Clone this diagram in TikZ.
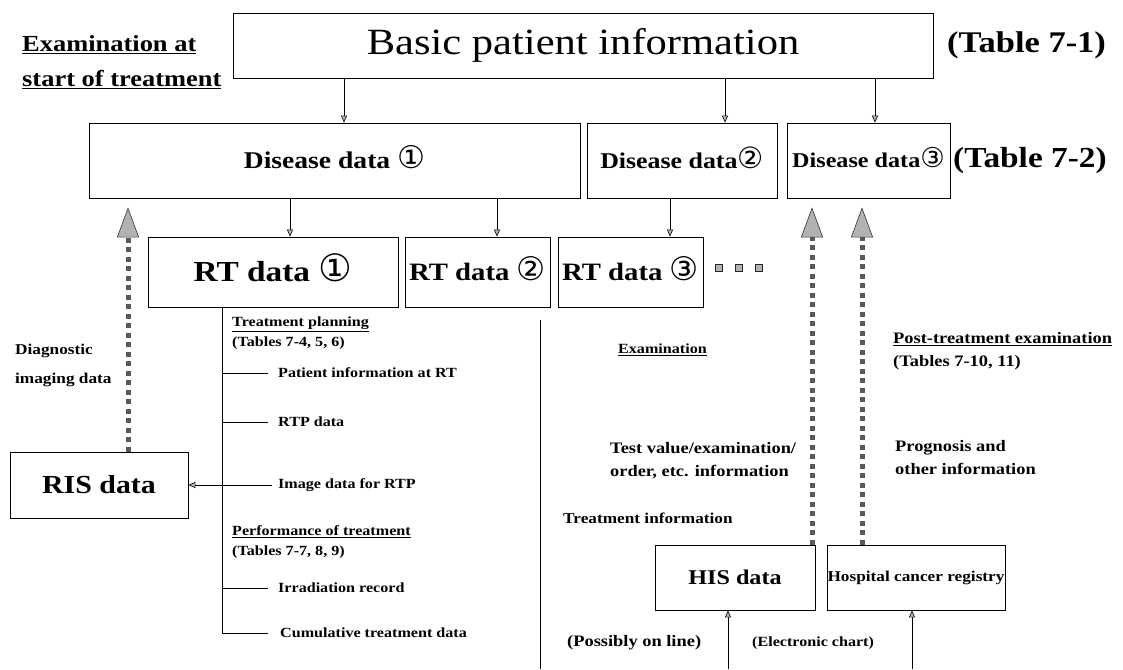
\documentclass[tikz,border=0pt]{standalone}
\usepackage{fontspec}
\usepackage{graphicx}
\setmainfont[FakeStretch=1.15]{Liberation Serif}
\newfontfamily\cf{DejaVu Sans}
\usetikzlibrary{arrows.meta}
\newcommand{\fs}[1]{\fontsize{#1}{#1}\selectfont}
\newcommand{\cnum}[1]{{\cf\mdseries\smash{\scalebox{1.3}{#1}}}}
\begin{document}
\begin{tikzpicture}[x=1pt,y=-1pt]
\useasboundingbox[fill=white] (0,0) rectangle (1123,669);
\tikzset{
 box/.style={draw, line width=0.8pt, inner sep=0pt, font=\bfseries\fs{24}},
 arr/.style={-{Triangle[length=7pt,width=6pt,fill=gray!60]}, line width=0.6pt},
 dots/.style={line width=5pt, draw=gray!70!black, dash pattern=on 5pt off 4.5pt,
   -{Triangle[length=30pt,width=22pt,fill=gray!60,color=gray!40!black,line width=0.6pt,sep=0pt]}},
 lbl/.style={anchor=west, inner sep=0pt, font=\bfseries\fontsize{14}{20}\selectfont, align=left},
 mlbl/.style={anchor=west, inner sep=0pt, font=\bfseries\fontsize{16}{23}\selectfont, align=left},
 big/.style={anchor=west, inner sep=0pt, font=\bfseries\fontsize{23}{35}\selectfont, align=left},
 sq/.style={fill=gray!60, draw=gray!30!black, line width=0.5pt, minimum size=7pt, inner sep=0pt},
 plain/.style={line width=0.8pt},
}
% top
\node[big] (exam) at (22,62) {\underline{Examination at}\\\underline{start of treatment}};
\node[box, minimum width=700pt, minimum height=65pt, font=\fs{37}] (basic) at (583,45.5) {Basic patient information};
\node[big, font=\bfseries\fs{30}] (t71) at (947,45) {(Table 7-1)};
% disease row
\node[box, minimum width=491pt, minimum height=75pt] (d1) at (334.5,160.5) {Disease data \cnum{①}};
\node[box, minimum width=190pt, minimum height=75pt, font=\bfseries\fs{22.5}] (d2) at (682,160.5) {Disease data\cnum{②}};
\node[box, minimum width=163pt, minimum height=75pt, font=\bfseries\fs{21}] (d3) at (868.5,160.5) {Disease data\cnum{③}};
\node[big, font=\bfseries\fs{29}] (t72) at (953,160.5) {(Table 7-2)};
% rt row
\node[box, minimum width=250pt, minimum height=70pt, font=\bfseries\fs{29}] (rt1) at (273,272) {RT data \cnum{①}};
\node[box, minimum width=145pt, minimum height=70pt, font=\bfseries\fs{25}] (rt2) at (477.5,272) {RT data \cnum{②}};
\node[box, minimum width=145pt, minimum height=70pt, font=\bfseries\fs{25}] (rt3) at (630.5,272) {RT data \cnum{③}};
\node[sq] (s1) at (719,268) {};
\node[sq] (s2) at (739,268) {};
\node[sq] (s3) at (759,268) {};
% coordinates for vertical connectors
\coordinate (xa) at (344,0);
\coordinate (xb) at (725,0);
\coordinate (xc) at (875,0);
\coordinate (xd) at (290,0);
\coordinate (xe) at (497,0);
\coordinate (xf) at (670,0);
\draw[arr] (basic.south -| xa) -- (d1.north -| xa);
\draw[arr] (basic.south -| xb) -- (d2.north -| xb);
\draw[arr] (basic.south -| xc) -- (d3.north -| xc);
\draw[arr] (d1.south -| xd) -- (rt1.north -| xd);
\draw[arr] (d1.south -| xe) -- (rt2.north -| xe);
\draw[arr] (d2.south -| xf) -- (rt3.north -| xf);
% left side
\node[box, minimum width=178pt, minimum height=66pt, font=\bfseries\fs{26}] (ris) at (99,485) {RIS data};
\node[lbl, font=\bfseries\fontsize{15}{29}\selectfont] (diag) at (15,365) {Diagnostic\\imaging data};
\coordinate (xl) at (128,0);
\draw[dots, shorten >=9pt] (ris.north -| xl) -- (d1.south -| xl);
% treatment tree
\node[lbl] (tp) at (232,333) {\underline{Treatment planning}\\(Tables 7-4, 5, 6)};
\node[lbl] (pir) at (278,373) {Patient information at RT};
\node[lbl] (rtp) at (278,422) {RTP data};
\node[lbl] (img) at (278,485) {Image data for RTP};
\node[lbl] (perf) at (232,542) {\underline{Performance of treatment}\\(Tables 7-7, 8, 9)};
\node[lbl] (irr) at (278,588) {Irradiation record};
\node[lbl] (cum) at (280,633) {Cumulative treatment data};
\coordinate (xv) at (222,0);
\draw[plain] (rt1.south -| xv) |- ([xshift=-12pt]cum.west);
\draw[plain] (xv |- pir.west) -- ([xshift=-10pt]pir.west);
\draw[plain] (xv |- rtp.west) -- ([xshift=-10pt]rtp.west);
\draw[plain] (xv |- irr.west) -- ([xshift=-10pt]irr.west);
\draw[arr] ([xshift=-6pt]img.west) -- (ris.east |- img.west);
% long vertical line
\coordinate (vl1) at (540,320);
\coordinate (vl2) at (540,669);
\draw[plain] (vl1) -- (vl2);
% right side
\node[lbl] (examr) at (618,350) {\underline{Examination}};
\node[mlbl] (post) at (893,351) {\underline{Post-treatment examination}\\(Tables 7-10, 11)};
\node[mlbl] (test) at (610,461) {Test value/examination/\\order, etc. information};
\node[mlbl] (prog) at (895,458) {Prognosis and\\other information};
\node[lbl, font=\bfseries\fs{15}] (treat) at (563,518) {Treatment information};
\node[box, minimum width=160pt, minimum height=65pt, font=\bfseries\fs{21}] (his) at (735,577.5) {HIS data};
\node[box, minimum width=178pt, minimum height=65pt, font=\bfseries\fs{15}] (reg) at (916,577.5) {Hospital cancer registry};
\coordinate (xr1) at (812,0);
\coordinate (xr2) at (862,0);
\draw[dots, shorten >=9pt] (his.north -| xr1) -- (d3.south -| xr1);
\draw[dots, shorten >=9pt] (reg.north -| xr2) -- (d3.south -| xr2);
\node[lbl, font=\bfseries\fs{16}] (pos) at (567,643) {(Possibly on line)};
\node[lbl, font=\bfseries\fs{14}] (ele) at (752,643) {(Electronic chart)};
\coordinate (hb) at (728,669);
\coordinate (rb) at (912,669);
\draw[arr] (hb) -- (his.south -| hb);
\draw[arr] (rb) -- (reg.south -| rb);
\end{tikzpicture}
\end{document}
